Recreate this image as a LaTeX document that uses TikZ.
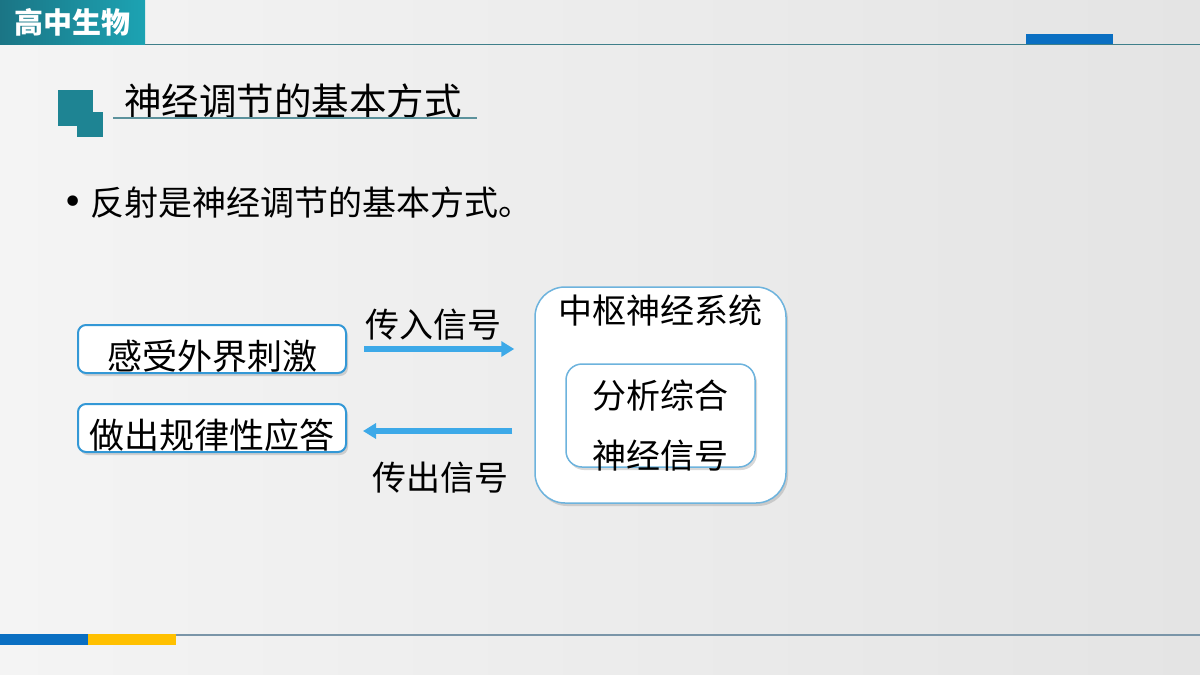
\documentclass[tikz,border=0pt]{standalone}
\usepackage{fontspec}
\setmainfont{Noto Sans CJK SC}
\newfontfamily\bulletfont{DejaVu Sans}
\usepackage{xcolor}
\usetikzlibrary{arrows.meta,shadows}

\definecolor{bgLeft}{HTML}{F4F4F4}
\definecolor{bgRight}{HTML}{E4E4E4}
\definecolor{tabDark}{HTML}{1B7585}
\definecolor{tabLight}{HTML}{1CA3B3}
\definecolor{rule}{HTML}{3F7F8A}
\definecolor{barBlue}{HTML}{0A6FC2}
\definecolor{barYellow}{HTML}{FFC000}
\definecolor{iconTeal}{HTML}{1E8493}
\definecolor{boxBlue}{HTML}{3398D6}
\definecolor{cnsBlue}{HTML}{6DB3DD}
\definecolor{sigBlue}{HTML}{3DA9E8}
\definecolor{footRule}{HTML}{7A95A8}

\tikzset{
  cjk/.style={font=\fontsize{#1}{#1}\selectfont, inner sep=0pt},
  boxshadow/.style={drop shadow={shadow xshift=2pt, shadow yshift=-3pt, opacity=0.3, fill=gray}},
  stimbox/.style={draw=boxBlue, line width=2pt, rounded corners=8pt, fill=white,
    minimum width=268pt, minimum height=48pt, boxshadow},
  sigarrow/.style={draw=sigBlue, line width=6pt, -{Triangle[width=15pt,length=13pt]}},
}

\begin{document}
\begin{tikzpicture}[x=1pt,y=-1pt]
     \useasboundingbox (0,0) rectangle (1200,675);
     \shade[left color=bgLeft, right color=bgRight] (0,0) rectangle (1200,675);
     % header
     \shade[left color=tabDark, right color=tabLight] (0,0) rectangle (145,44);
     \node[cjk=29, text=white, font=\fontsize{29}{29}\selectfont\bfseries] (subject) at (72,22) {高中生物};
     \draw[rule, line width=1pt] (145,44.5) -- (1200,44.5);
     \fill[barBlue] (1026,34) rectangle (1113,44);
     % title
     \fill[iconTeal] (58,90) rectangle (93,126);
     \fill[iconTeal] (77,112) rectangle (103,137);
     \node[cjk=37.5, anchor=west] (title) at (124,101) {神经调节的基本方式};
     \draw[rule!85, line width=2pt] (113,117.5) -- (477,117.5);
     \node[cjk=34, anchor=west] (reflex) at (62,203)
       {\makebox[22pt][c]{\bulletfont\fontsize{36}{36}\selectfont\raisebox{1pt}{•}}\hspace{6pt}反射是神经调节的基本方式。};
     % boxes
     \node[stimbox] (sense) at (212,349) {};
     \node[cjk=35] (senseText) at (212,356) {感受外界刺激};
     \node[stimbox] (respond) at (212,428) {};
     \node[cjk=35] (respondText) at (212,435) {做出规律性应答};
     \node[draw=cnsBlue, line width=1.5pt, rounded corners=30pt, fill=white,
       minimum width=251pt, minimum height=216pt, boxshadow] (cns) at (660.5,395) {};
     \node[cjk=34] (cnsText) at (660,310) {中枢神经系统};
     \node[draw=cnsBlue, line width=1.5pt, rounded corners=16pt, fill=white,
       minimum width=189pt, minimum height=103pt, boxshadow] (analyse) at (660.5,415.5) {};
     \node[cjk=34] (analyseText) at (660,396) {分析综合};
     \node[cjk=34] (signalText) at (660,456) {神经信号};
     % signals
     \draw[sigarrow, shorten <=17pt, shorten >=20pt] (sense.east) -- (sense.east -| cns.west);
     \draw[sigarrow, shorten <=22pt, shorten >=16pt] ([yshift=-3pt]respond.east -| cns.west) -- ([yshift=-3pt]respond.east);
     \node[cjk=34] (inText) at (433,325) {传入信号};
     \node[cjk=34] (outText) at (440,478) {传出信号};
     % footer
     \draw[footRule, line width=1.5pt] (0,635) -- (1200,635);
     \fill[barBlue] (0,634) rectangle (88,645);
     \fill[barYellow] (88,634) rectangle (176,645);
\end{tikzpicture}
\end{document}
